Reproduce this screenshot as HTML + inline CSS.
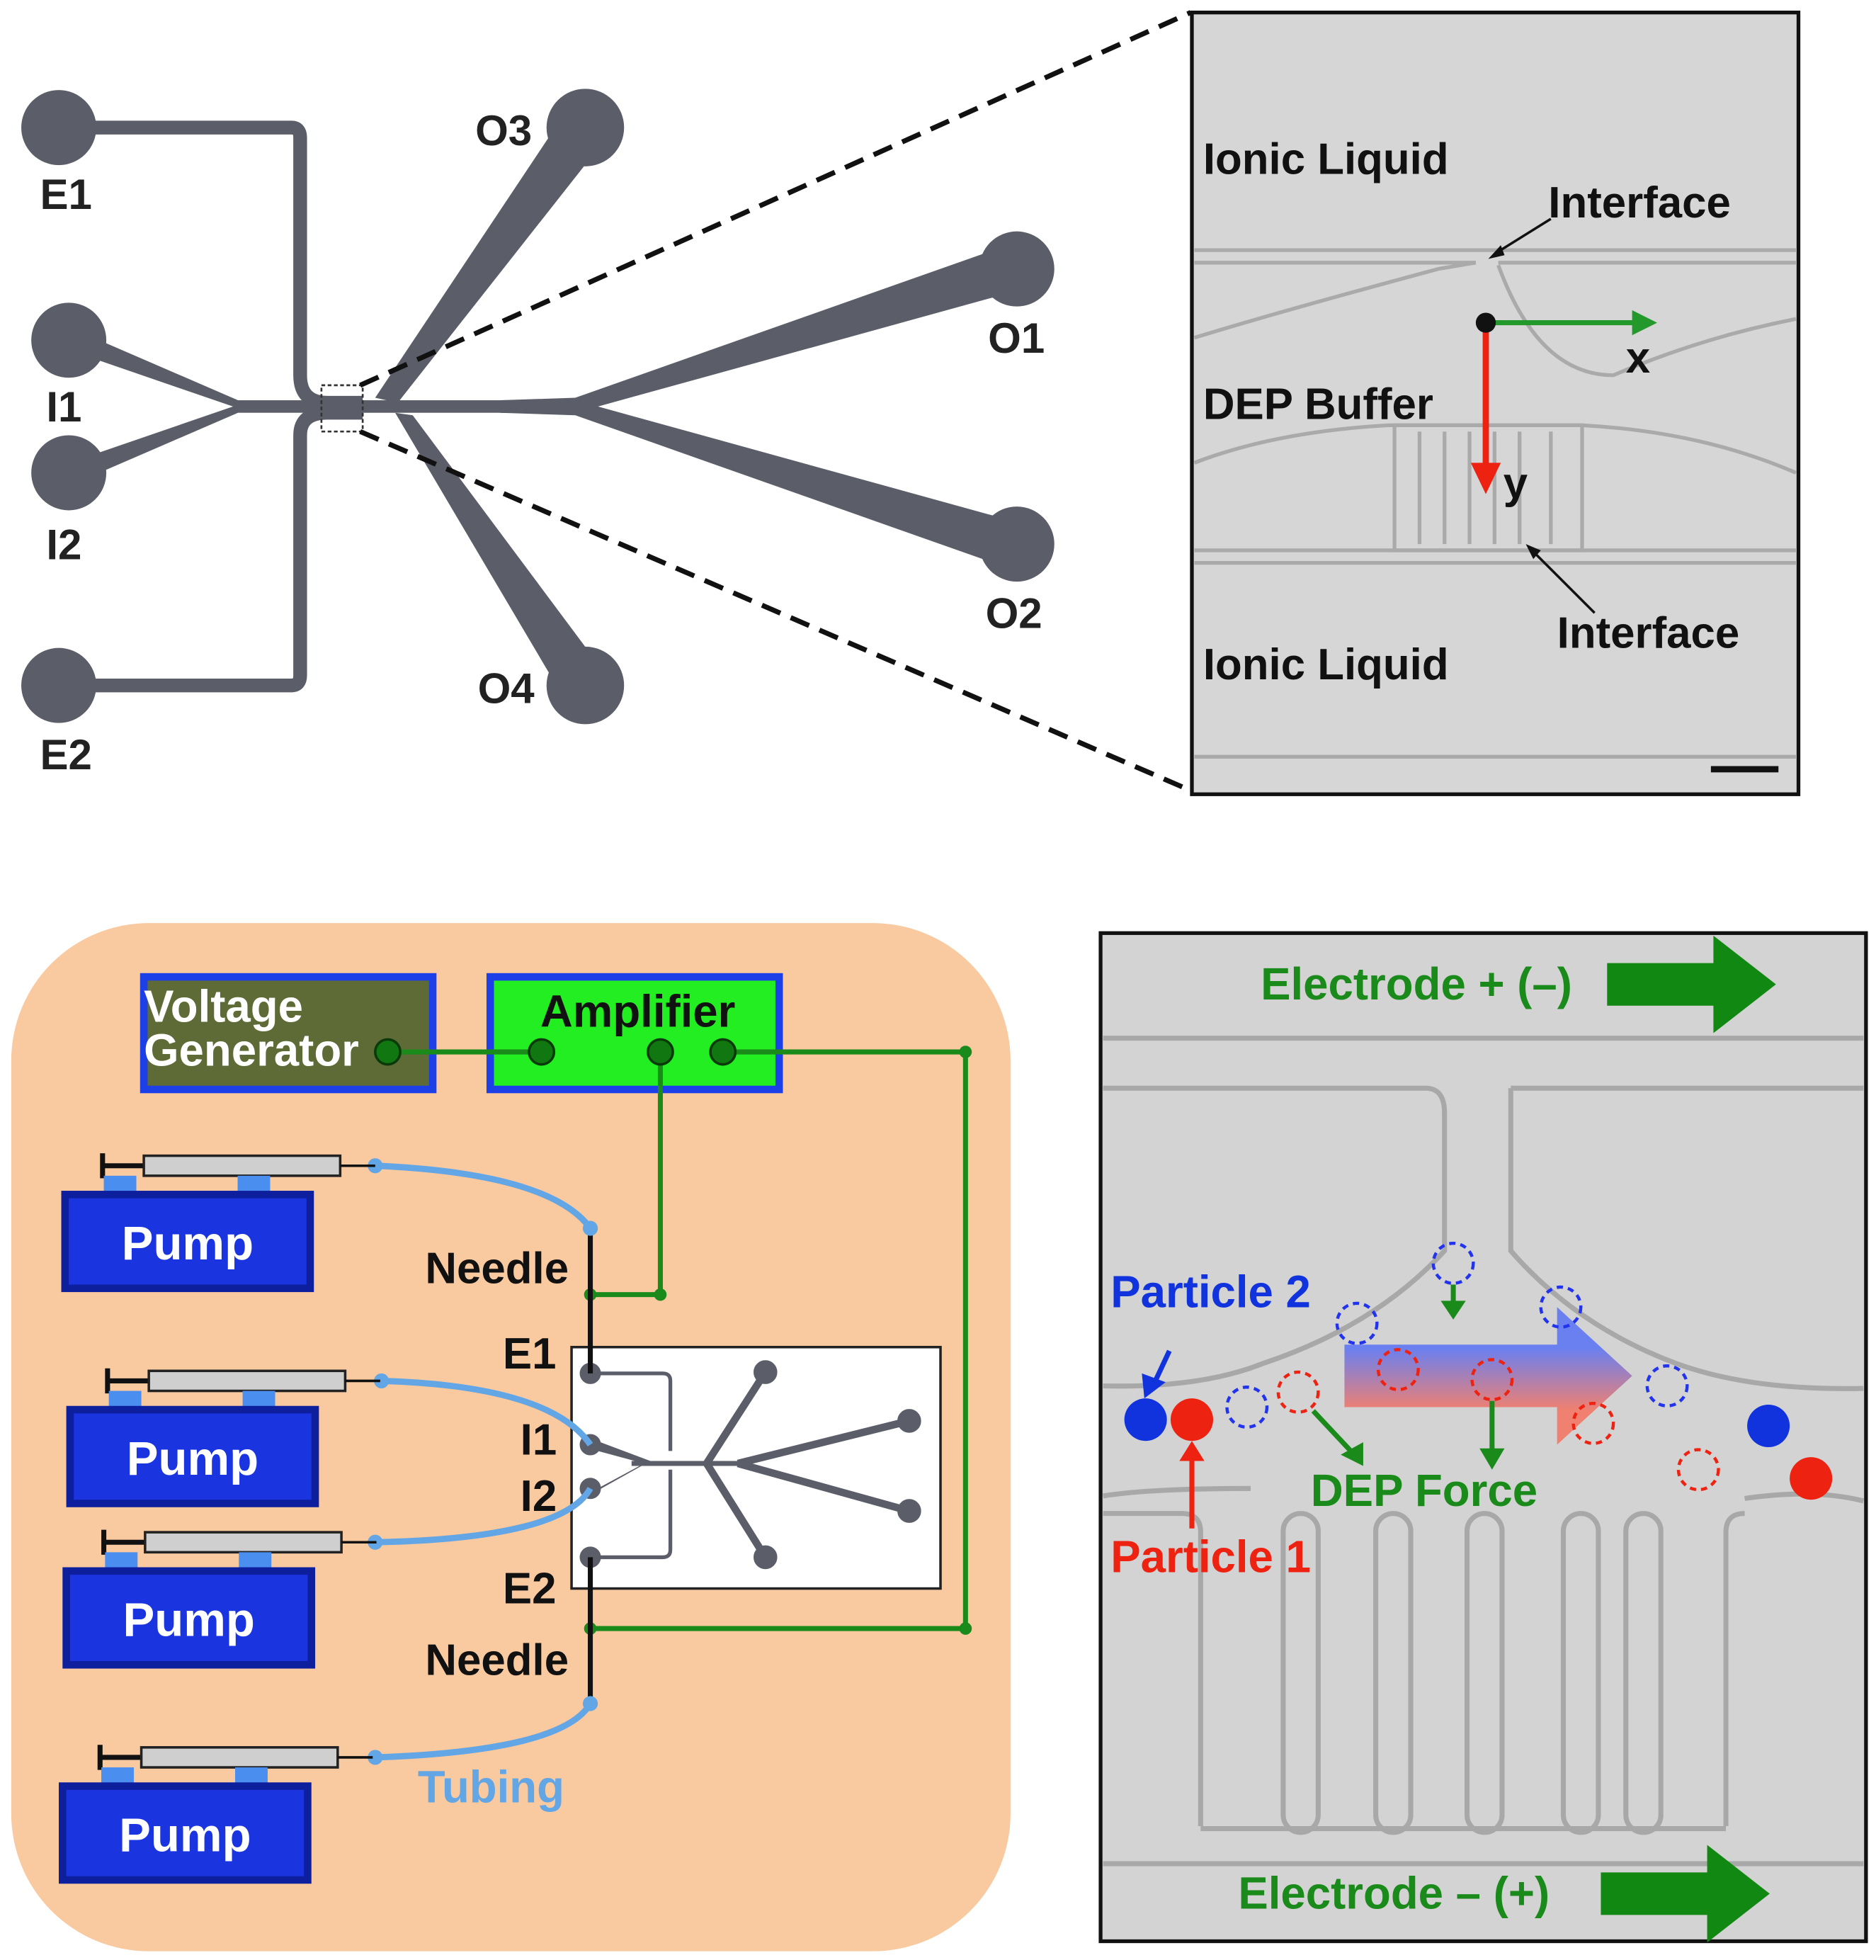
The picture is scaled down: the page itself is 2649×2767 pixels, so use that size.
<!DOCTYPE html>
<html><head><meta charset="utf-8"><style>html,body{margin:0;padding:0;background:#fff}svg{display:block}text{font-family:"Liberation Sans",Arial,sans-serif;font-weight:bold}</style></head>
<body>
<svg width="2649" height="2767" viewBox="0 0 1500 1567" preserveAspectRatio="none" xmlns="http://www.w3.org/2000/svg">
<defs>
<linearGradient id="g" x1="0" y1="0" x2="0" y2="1"><stop offset="0.3" stop-color="#6a80f0"/><stop offset="0.75" stop-color="#f08070"/></linearGradient>
<g id="pump">
<line x1="82" y1="-10" x2="82" y2="10" stroke="#111" stroke-width="4"/>
<line x1="82" y1="0" x2="115" y2="0" stroke="#111" stroke-width="4"/>
<rect x="115" y="-8" width="157" height="16" fill="#cfcfcf" stroke="#222" stroke-width="2"/>
<line x1="272" y1="0" x2="300" y2="0" stroke="#111" stroke-width="2"/>
<rect x="83" y="8" width="26" height="15" fill="#4a8ef0"/>
<rect x="190" y="8" width="26" height="15" fill="#4a8ef0"/>
<rect x="52" y="23" width="196" height="75" fill="#1a35e0" stroke="#0e1f9e" stroke-width="6"/>
<text x="150" y="75" font-size="38" fill="#fff" text-anchor="middle">Pump</text>
</g>
</defs>
<rect width="1500" height="1567" fill="#fff"/>
<!-- Top-left chip -->
<g fill="#5b5e69" stroke="none">
<path d="M47,102 H233 Q240,102 240,110 V300 Q240,322 262,322 H290" fill="none" stroke="#5b5e69" stroke-width="11"/>
<path d="M47,548 H233 Q240,548 240,540 V348 Q240,330 262,330 H290" fill="none" stroke="#5b5e69" stroke-width="11"/>
<circle cx="47" cy="102" r="30"/><circle cx="47" cy="548" r="30"/>
<circle cx="55" cy="272" r="30"/><circle cx="55" cy="378" r="30"/>
<circle cx="468" cy="102" r="31"/><circle cx="813" cy="215" r="30"/>
<circle cx="813" cy="435" r="30"/><circle cx="468" cy="548" r="31"/>
<polygon points="40,255 70,285 195,328 195,322"/>
<polygon points="40,395 70,365 195,322 195,328"/>
<rect x="190" y="320" width="220" height="10"/>
<polygon points="400,320 460,318 800,198 815,232 460,330 400,330"/>
<polygon points="400,320 460,320 815,418 800,452 460,332 400,330"/>
<polygon points="300,318 452,90 485,110 318,322"/>
<polygon points="330,332 485,540 452,560 316,330"/>
</g>
<rect x="257" y="308" width="33" height="37" fill="none" stroke="#333" stroke-width="1.5" stroke-dasharray="3,2"/>
<line x1="288" y1="308" x2="952" y2="10" stroke="#111" stroke-width="4" stroke-dasharray="16,9"/>
<line x1="288" y1="345" x2="952" y2="632" stroke="#111" stroke-width="4" stroke-dasharray="16,9"/>
<g font-size="34" fill="#222">
<text x="32" y="167">E1</text><text x="37" y="337">I1</text><text x="37" y="447">I2</text><text x="32" y="615">E2</text>
<text x="380" y="116">O3</text><text x="790" y="282">O1</text><text x="788" y="502">O2</text><text x="382" y="562">O4</text>
</g>
<!-- Top-right photo -->
<rect x="953" y="10" width="485" height="625" fill="#d6d6d6" stroke="#111" stroke-width="3"/>
<g fill="none" stroke="#aaa" stroke-width="3">
<path d="M955,200 H1436"/><path d="M955,210 H1180 M1198,210 H1436"/>
<path d="M955,270 Q1020,250 1150,215 L1180,210"/><path d="M1198,212 Q1230,300 1290,300 Q1360,270 1436,255"/>
<path d="M955,370 Q1020,345 1110,340 H1265 Q1360,345 1436,378"/>
<path d="M955,440 H1436"/><path d="M955,450 H1436"/>
<path d="M955,605 H1436"/>
<rect x="1115" y="340" width="150" height="100"/>
<path d="M1135,345 V435 M1155,345 V435 M1175,345 V435 M1195,345 V435 M1215,345 V435 M1240,345 V435"/>
</g>
<g font-size="35" fill="#111">
<text x="962" y="139">Ionic Liquid</text><text x="1238" y="174">Interface</text>
<text x="962" y="335">DEP Buffer</text><text x="1245" y="518">Interface</text>
<text x="962" y="543">Ionic Liquid</text>
<text x="1300" y="298">x</text><text x="1202" y="398">y</text>
</g>
<line x1="1240" y1="175" x2="1195" y2="203" stroke="#111" stroke-width="2"/>
<polygon points="1190,207 1200,196 1203,204" fill="#111"/>
<line x1="1275" y1="490" x2="1225" y2="440" stroke="#111" stroke-width="2"/>
<polygon points="1220,435 1232,440 1226,447" fill="#111"/>
<line x1="1188" y1="258" x2="1310" y2="258" stroke="#22992a" stroke-width="4"/>
<polygon points="1325,258 1305,248 1305,268" fill="#22992a"/>
<line x1="1188" y1="258" x2="1188" y2="375" stroke="#ee2211" stroke-width="5"/>
<polygon points="1188,395 1176,370 1200,370" fill="#ee2211"/>
<circle cx="1188" cy="258" r="8" fill="#111"/>
<line x1="1368" y1="615" x2="1422" y2="615" stroke="#111" stroke-width="5"/>
<!-- Bottom-left -->
<rect x="9" y="738" width="799" height="822" rx="110" fill="#f9c9a0"/>
<rect x="115" y="781" width="231" height="90" fill="#5e6b36" stroke="#1d3fe8" stroke-width="6"/>
<rect x="392" y="781" width="231" height="90" fill="#22ee22" stroke="#1d3fe8" stroke-width="6"/>
<text x="115" y="817" font-size="36" fill="#fff">Voltage</text>
<text x="115" y="852" font-size="36" fill="#fff">Generator</text>
<text x="432" y="821" font-size="36" fill="#111">Amplifier</text>
<g stroke="#1a8a1a" stroke-width="4" fill="none">
<line x1="310" y1="841" x2="433" y2="841"/>
<path d="M578,841 H772 V1302 H472"/>
<path d="M528,841 V1035 H472"/>
</g>
<g fill="#117711" stroke="#0a3a0a" stroke-width="2">
<circle cx="310" cy="841" r="10"/><circle cx="433" cy="841" r="10"/><circle cx="528" cy="841" r="10"/><circle cx="578" cy="841" r="10"/>
</g>
<g fill="#1a8a1a"><circle cx="772" cy="841" r="5"/><circle cx="772" cy="1302" r="5"/><circle cx="528" cy="1035" r="5"/><circle cx="472" cy="1035" r="5"/><circle cx="472" cy="1302" r="5"/></g>
<rect x="457" y="1077" width="295" height="193" fill="#fff" stroke="#222" stroke-width="2"/>
<g fill="#5b5e69" stroke="#5b5e69">
<path d="M472,1098 H530 Q536,1098 536,1104 V1160 M472,1245 H530 Q536,1245 536,1239 V1175" fill="none" stroke-width="3"/>
<circle cx="472" cy="1098" r="8"/><circle cx="472" cy="1245" r="8"/><circle cx="472" cy="1155" r="8"/><circle cx="472" cy="1190" r="8"/>
<polygon points="472,1150 520,1168 472,1195 478,1190 515,1170 478,1160" stroke="none"/>
<line x1="505" y1="1170" x2="600" y2="1170" stroke-width="4"/>
<path d="M565,1170 L612,1097 M565,1170 L612,1245 M590,1170 L727,1136 M590,1170 L727,1208" stroke-width="6" fill="none"/>
<circle cx="612" cy="1097" r="9"/><circle cx="612" cy="1245" r="9"/><circle cx="727" cy="1136" r="9"/><circle cx="727" cy="1208" r="9"/>
</g>
<line x1="472" y1="985" x2="472" y2="1098" stroke="#111" stroke-width="4"/>
<line x1="472" y1="1245" x2="472" y2="1362" stroke="#111" stroke-width="4"/>
<g fill="none" stroke="#62a6e6" stroke-width="5">
<path d="M300,932 Q440,938 472,982"/>
<path d="M305,1104 Q440,1108 472,1155"/>
<path d="M300,1233 Q450,1230 472,1190"/>
<path d="M300,1405 Q450,1400 472,1362"/>
</g>
<g fill="#62a6e6"><circle cx="300" cy="932" r="6"/><circle cx="472" cy="982" r="6"/><circle cx="305" cy="1104" r="6"/><circle cx="300" cy="1233" r="6"/><circle cx="300" cy="1405" r="6"/><circle cx="472" cy="1362" r="6"/></g>
<use href="#pump" transform="translate(0,932)"/>
<use href="#pump" transform="translate(4,1104)"/>
<use href="#pump" transform="translate(1,1233)"/>
<use href="#pump" transform="translate(-2,1405)"/>
<g font-size="35" fill="#111">
<text x="340" y="1026">Needle</text><text x="402" y="1094">E1</text>
<text x="416" y="1163">I1</text><text x="416" y="1208">I2</text>
<text x="402" y="1282">E2</text><text x="340" y="1339">Needle</text>
</g>
<text x="334" y="1441" font-size="36" fill="#62a6e6">Tubing</text>
<!-- Bottom-right photo -->
<rect x="880" y="746" width="612" height="806" fill="#d3d3d3" stroke="#111" stroke-width="3"/>
<g fill="none" stroke="#a8a8a8" stroke-width="4">
<path d="M882,830 H1490"/>
<path d="M882,870 H1140 Q1155,870 1155,890 V1000 Q1100,1060 1010,1090 Q960,1110 882,1108"/>
<path d="M1208,870 H1490 M1208,870 V1000 Q1260,1060 1340,1090 Q1400,1112 1490,1110"/>
<path d="M882,1196 Q920,1190 1000,1190 H1000"/>
<path d="M1395,1198 Q1450,1190 1490,1200"/>
<path d="M882,1490 H1490"/>
<rect x="1026" y="1210" width="28" height="255" rx="14"/>
<rect x="1100" y="1210" width="28" height="255" rx="14"/>
<rect x="1173" y="1210" width="28" height="255" rx="14"/>
<rect x="1250" y="1210" width="28" height="255" rx="14"/>
<rect x="1300" y="1210" width="28" height="255" rx="14"/>
<path d="M882,1210 H945 Q960,1210 960,1225 V1460 M1395,1210 Q1380,1210 1380,1225 V1460 M960,1462 H1380"/>
</g>
<text x="1008" y="799" font-size="36" fill="#1a8a1a">Electrode + (–)</text>
<text x="990" y="1526" font-size="36" fill="#1a8a1a">Electrode – (+)</text>
<polygon points="1285,770 1370,770 1370,748 1420,787 1370,826 1370,804 1285,804" fill="#118811"/>
<polygon points="1280,1497 1365,1497 1365,1475 1415,1514 1365,1553 1365,1531 1280,1531" fill="#118811"/>
<polygon points="1075,1075 1245,1075 1245,1045 1305,1100 1245,1155 1245,1125 1075,1125" fill="url(#g)"/>
<g fill="none" stroke-width="2.5" stroke-dasharray="5,4">
<g stroke="#2233ee"><circle cx="1162" cy="1010" r="16"/><circle cx="1085" cy="1058" r="16"/><circle cx="1248" cy="1045" r="16"/><circle cx="997" cy="1125" r="16"/><circle cx="1333" cy="1108" r="16"/></g>
<g stroke="#ee2211"><circle cx="1118" cy="1095" r="16"/><circle cx="1193" cy="1103" r="16"/><circle cx="1038" cy="1113" r="16"/><circle cx="1274" cy="1138" r="16"/><circle cx="1358" cy="1175" r="16"/></g>
</g>
<circle cx="916" cy="1135" r="17" fill="#1133dd"/><circle cx="953" cy="1135" r="17" fill="#ee2211"/>
<circle cx="1414" cy="1140" r="17" fill="#1133dd"/><circle cx="1448" cy="1182" r="17" fill="#ee2211"/>
<g stroke="#1a8a1a" stroke-width="4"><line x1="1162" y1="1027" x2="1162" y2="1042"/><line x1="1193" y1="1120" x2="1193" y2="1160"/><line x1="1050" y1="1128" x2="1080" y2="1160"/></g>
<g fill="#1a8a1a"><polygon points="1152,1040 1172,1040 1162,1055"/><polygon points="1183,1158 1203,1158 1193,1175"/><polygon points="1072,1163 1090,1153 1090,1172"/></g>
<line x1="935" y1="1080" x2="921" y2="1110" stroke="#1133dd" stroke-width="4"/>
<polygon points="915,1118 913,1098 932,1105" fill="#1133dd"/>
<line x1="953" y1="1160" x2="953" y2="1222" stroke="#ee2211" stroke-width="4"/>
<polygon points="953,1152 943,1168 963,1168" fill="#ee2211"/>
<text x="888" y="1045" font-size="36" fill="#1133dd">Particle 2</text>
<text x="888" y="1257" font-size="36" fill="#ee2211">Particle 1</text>
<text x="1048" y="1204" font-size="36" fill="#1a8a1a">DEP Force</text>
</svg>
</body></html>
